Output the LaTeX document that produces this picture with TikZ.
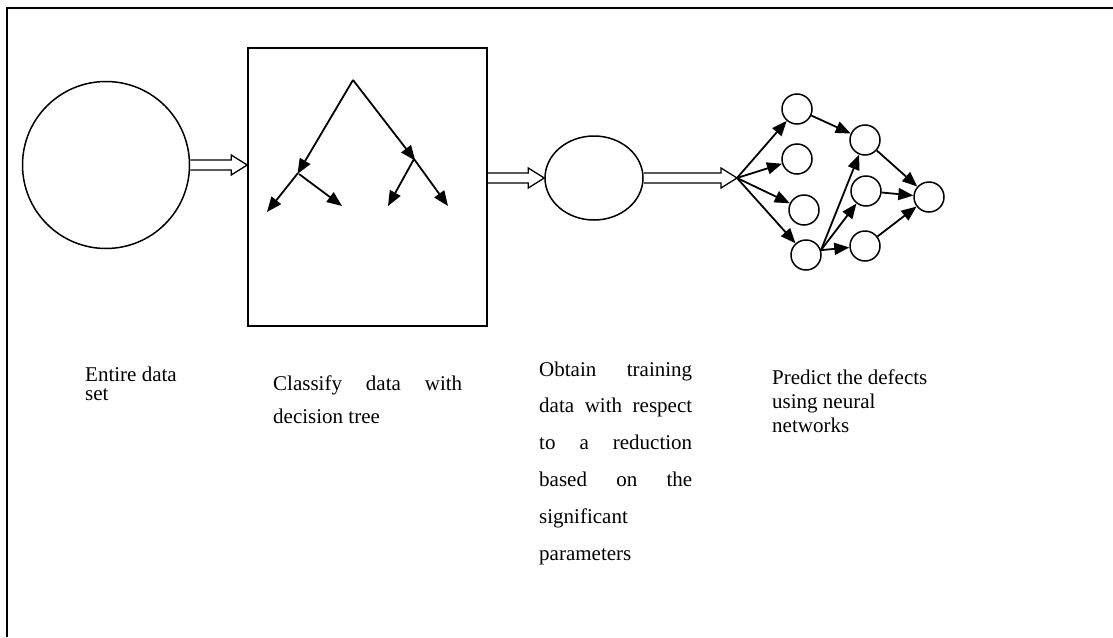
\documentclass[tikz,border=0pt]{standalone}
\usepackage{fontspec}
\setmainfont{Liberation Serif}
\usetikzlibrary{arrows.meta,calc,shapes.geometric}
\tikzset{
  frame/.style={line width=2pt},
  shapeline/.style={draw, line width=1.5pt, inner sep=0pt},
  arr/.style={line width=1.8pt, -{Triangle[length=15pt,width=12pt]}},
  hollow/.style={line width=1.3pt, line join=miter},
  txt/.style={inner sep=0pt, anchor=base west, font=\fontsize{21}{24}\selectfont},
  neuron/.style={circle, draw, line width=1.5pt, minimum size=30pt, inner sep=0pt},
}
\newcommand\hollowarrow[2]{%
  \draw[hollow] let \p1=(#1), \p2=(#2) in
   (\x1,{\y1+5pt}) -- ({\x2-16pt},{\y1+5pt}) -- ({\x2-16pt},{\y1+10pt}) -- (\x2,\y1)
   -- ({\x2-16pt},{\y1-10pt}) -- ({\x2-16pt},{\y1-5pt}) -- (\x1,{\y1-5pt});}
\begin{document}
\begin{tikzpicture}[x=1pt,y=-1pt]
\useasboundingbox (0,0) rectangle (1113,637);
% outer frame (top and left only visible)
\draw[frame] (7,637) -- (7,8) -- (1113,8);

% main shapes
\node[shapeline, circle, minimum size=167pt] (c1) at (106,165) {};
\node[shapeline, rectangle, minimum width=239pt, minimum height=278pt] (box) at (367.5,187) {};
\node[shapeline, ellipse, minimum width=98pt, minimum height=84pt] (e1) at (594,178) {};
\coordinate (fan) at (737,178);

% hollow arrows
\hollowarrow{c1.east}{box.west |- c1.east}
\hollowarrow{box.east |- e1.west}{e1.west}
\hollowarrow{e1.east}{fan}

% decision tree
\coordinate (root) at (353,80);
\coordinate (L) at (298,173);
\coordinate (R) at (414,159);
\coordinate (LL) at (267,212);
\coordinate (LR) at (342,206);
\coordinate (RL) at (388,206);
\coordinate (RR) at (448,206);
\draw[arr, shorten >=-1pt] (root) -- (L);
\draw[arr, shorten >=-2pt] (root) -- (R);
\draw[arr] (L) -- (LL);
\draw[arr] ($(L)+(1,1)$) -- (LR);
\draw[arr] (R) -- (RL);
\draw[arr] (R) -- (RR);

% neural network
\node[neuron] (n1) at (797,109) {};
\node[neuron] (n2) at (797,159) {};
\node[neuron] (n3) at (804,210) {};
\node[neuron] (n4) at (806,255) {};
\node[neuron] (m1) at (865,140) {};
\node[neuron] (m2) at (866,191) {};
\node[neuron] (m3) at (865,246) {};
\node[neuron] (o) at (929,197) {};
\draw[arr] (fan) -- (n1);
\draw[arr] (fan) -- (n2);
\draw[arr] (fan) -- (n3);
\draw[arr] (fan) -- (n4);
\draw[arr] (n1) -- (m1);
\draw[arr] (n4.18) -- (m1);
\draw[arr] (n4.18) -- (m2);
\draw[arr] (n4.18) -- (m3);
\draw[arr] (m1) -- (o);
\draw[arr] (m2) -- (o);
\draw[arr] (m3) -- (o);

% texts
\node[txt] (t1) at (85,381) {\parbox[t]{120pt}{\baselineskip=19.5pt
  \hbox{Entire data}
  \hbox{set}}};
\node[txt] (t2) at (273,390) {\parbox[t]{189pt}{\baselineskip=33pt
  \hbox to 189pt{Classify\hfill data\hfill with}
  \hbox{decision tree}}};
\node[txt] (t3) at (539,376) {\parbox[t]{153pt}{\baselineskip=36.8pt
  \hbox to 153pt{Obtain\hfill training}
  \hbox to 153pt{data\hfill with\hfill respect}
  \hbox to 153pt{to\hfill a\hfill reduction}
  \hbox to 153pt{based\hfill on\hfill the}
  \hbox{significant}
  \hbox{parameters}}};
\node[txt] (t4) at (772,384) {\parbox[t]{170pt}{\baselineskip=24pt
  \hbox{Predict the defects}
  \hbox{using neural}
  \hbox{networks}}};
\end{tikzpicture}
\end{document}
